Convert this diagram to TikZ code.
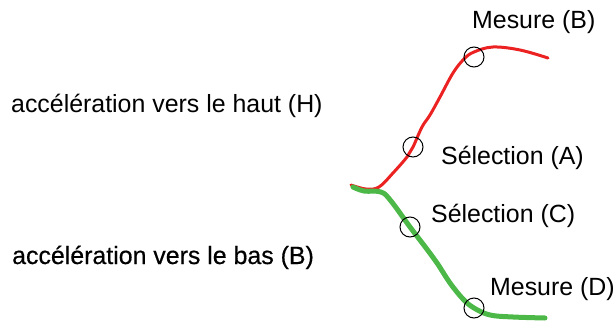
\documentclass[tikz,border=0pt]{standalone}
\usepackage{fontspec}
\setmainfont{Liberation Sans}
\newfontfamily\darkfont{Liberation Sans}[FakeBold=0.5]
\usetikzlibrary{positioning}
\definecolor{accred}{HTML}{EC2222}
\definecolor{accgreen}{HTML}{4CB848}

\begin{document}
\begin{tikzpicture}[x=1pt,y=-1pt,
    lbl/.style={anchor=base west,inner sep=0pt,font=\fontsize{24.9}{30}\selectfont},
    ring/.style={draw,circle,minimum size=20pt,inner sep=0pt,line width=1pt}]
    \useasboundingbox (0,0) rectangle (616,321);
    % courbes
    \draw[accred,line width=3pt,line cap=round] plot[smooth,tension=0.6] coordinates
      {(351,185) (366,189) (379,187) (393,173) (407,157) (413,147) (422,127)
       (430,115) (440,97) (453,73) (464,59) (474,52) (493,47) (520,50) (548,58)};
    \draw[accgreen,line width=5pt,line cap=round] plot[smooth,tension=0.6] coordinates
      {(353,187) (364,191) (381,192) (391,201) (410,227) (423,244) (437,263)
       (450,283) (463,299) (474,308) (490,315) (513,317) (545,318)};
    % points
    \foreach \name/\px/\py in {selA/413/147,mesB/474/57,selC/410/227,mesD/474/308}
      \node[ring] (\name) at (\px,\py) {};
    % textes
    \node[lbl] (haut) at (11,112) {accélération vers le haut (H)};
    \node[lbl,font=\fontsize{24.9}{30}\darkfont] (bas) at (12,264) {accélération vers le bas (B)};
    \node[lbl] (tB) at (472,29) {Mesure (B)};
    \node[lbl] (tA) at (441,164) {Sélection (A)};
    \node[lbl] (tC) at (431,222) {Sélection (C)};
    \node[lbl] (tD) at (490,295) {Mesure (D)};
\end{tikzpicture}
\end{document}
